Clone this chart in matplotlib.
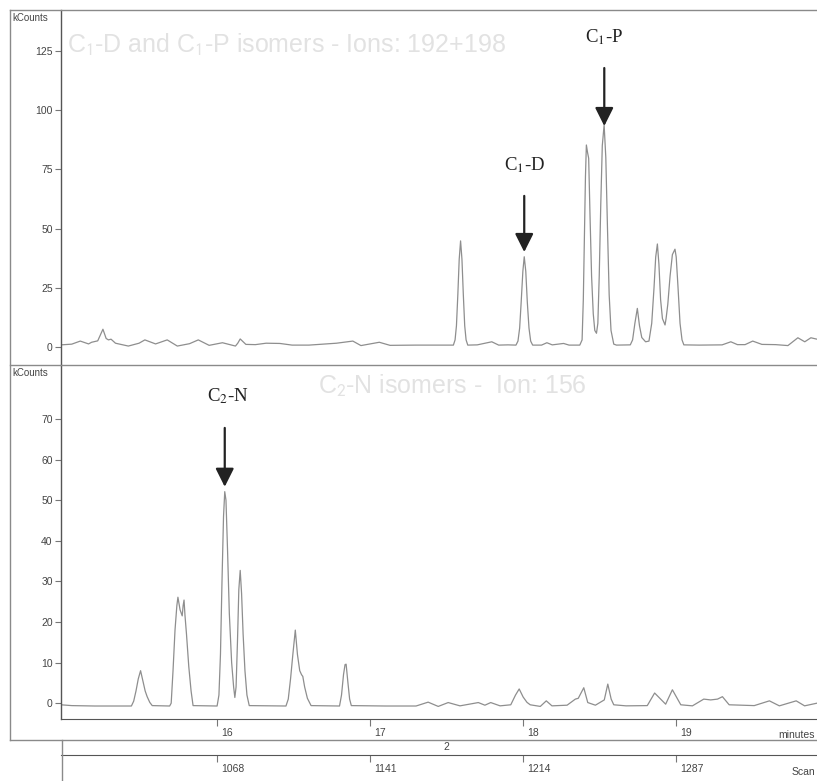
import matplotlib
matplotlib.use('Agg')
import matplotlib.pyplot as plt
from matplotlib.lines import Line2D
from matplotlib.transforms import ScaledTranslation

plt.rcParams['font.family'] = ['Liberation Sans', 'DejaVu Sans']

# chromatogram traces (time in minutes, signal in kCounts)
top_time = [14.98, 15.05, 15.106, 15.16, 15.18, 15.22, 15.254, 15.275, 15.29, 15.307,
            15.336, 15.42, 15.49, 15.528, 15.598, 15.674, 15.74, 15.82, 15.877, 15.948,
            16.035, 16.12, 16.135, 16.151, 16.188, 16.25, 16.32, 16.41, 16.49, 16.6,
            16.78, 16.887, 16.94, 17.06, 17.13, 17.3, 17.52,
            17.544, 17.555, 17.564, 17.573, 17.582, 17.591, 17.6, 17.609, 17.618, 17.627, 17.638,
            17.70, 17.795, 17.84, 17.90,
            17.953, 17.966, 17.977, 17.987, 17.998, 18.007, 18.017, 18.027, 18.038, 18.049, 18.062,
            18.12, 18.155, 18.19, 18.264, 18.30, 18.37,
            18.385, 18.393, 18.400, 18.407, 18.413, 18.421, 18.428, 18.437, 18.447, 18.458, 18.468,
            18.479, 18.488, 18.497, 18.507, 18.517, 18.529, 18.540, 18.551, 18.562, 18.574, 18.592,
            18.61, 18.70, 18.715, 18.73, 18.746, 18.76, 18.775, 18.80, 18.822,
            18.84, 18.855, 18.866, 18.877, 18.887, 18.898, 18.91, 18.927, 18.934, 18.945, 18.96,
            18.975, 18.992, 19.0, 19.012, 19.025, 19.038, 19.05,
            19.15, 19.30, 19.357, 19.40, 19.45, 19.50, 19.56, 19.65, 19.73, 19.795, 19.84, 19.88, 19.92]
top_kcounts = [0.9, 1.2, 2.5, 1.3, 2.0, 2.6, 7.5, 3.6, 3.0, 3.3,
               1.6, 0.4, 1.6, 3.0, 1.3, 3.0, 0.4, 1.4, 3.0, 0.7,
               1.8, 0.4, 1.6, 3.4, 1.1, 1.0, 1.6, 1.5, 0.8, 0.8,
               1.6, 2.5, 0.6, 2.0, 0.7, 0.8, 0.8,
               0.8, 3.0, 9.0, 22.0, 37.0, 44.8, 37.0, 22.0, 9.0, 3.0, 0.8,
               0.9, 2.2, 0.8, 0.9,
               0.8, 2.5, 8.0, 19.0, 32.0, 38.1, 32.0, 19.0, 8.0, 2.5, 0.8,
               0.8, 1.8, 0.9, 1.5, 0.8, 0.8,
               3.0, 20.0, 45.0, 72.0, 85.3, 82.0, 79.7, 55.0, 30.0, 14.0, 7.0,
               5.8, 10.0, 30.0, 60.0, 85.0, 93.8, 80.0, 50.0, 22.0, 7.0, 1.2,
               0.8, 0.9, 3.0, 10.0, 16.3, 9.0, 4.0, 2.2, 2.5,
               10.0, 25.0, 38.0, 43.5, 35.0, 20.0, 12.0, 9.3, 12.1, 18.0, 30.0,
               39.0, 41.3, 38.0, 25.0, 10.0, 3.0, 0.9,
               0.8, 0.9, 2.2, 1.0, 1.0, 2.5, 1.1, 1.0, 0.6, 3.9, 2.2, 3.9, 3.3]

bot_time = [14.98, 15.05, 15.2, 15.44, 15.455, 15.47, 15.485, 15.5, 15.515, 15.53,
            15.543, 15.56, 15.576, 15.69, 15.70, 15.712, 15.725, 15.737, 15.744, 15.758,
            15.772, 15.778, 15.784, 15.79, 15.80, 15.815, 15.83, 15.843,
            16.00, 16.012, 16.022, 16.032, 16.042, 16.05, 16.058, 16.068, 16.08, 16.095, 16.108,
            16.116, 16.124, 16.133, 16.142, 16.151, 16.16, 16.17, 16.182, 16.195, 16.21,
            16.45, 16.465, 16.48, 16.495, 16.511, 16.525, 16.54, 16.552, 16.56, 16.572, 16.59, 16.614,
            16.80, 16.813, 16.826, 16.836, 16.843, 16.855, 16.866, 16.877,
            17.1, 17.3, 17.379, 17.445, 17.51, 17.587, 17.707, 17.75, 17.788, 17.849,
            17.919, 17.95, 17.974, 18.0, 18.025, 18.046, 18.112, 18.151, 18.188,
            18.287, 18.341, 18.36, 18.396, 18.422, 18.472, 18.53, 18.553, 18.575, 18.592, 18.672,
            18.811, 18.859, 18.931, 18.975, 19.03, 19.106, 19.18, 19.225, 19.27, 19.302, 19.346,
            19.51, 19.609, 19.674, 19.784, 19.839, 19.92]
bot_kcounts = [-0.4, -0.6, -0.7, -0.7, 0.5, 3.0, 6.0, 8.0, 5.5, 3.0,
               1.6, 0.2, -0.6, -0.7, 0.0, 8.0, 18.0, 24.0, 26.1, 23.0,
               21.5, 24.0, 25.4, 21.7, 17.0, 9.0, 3.0, -0.6,
               -0.7, 2.0, 12.0, 30.0, 46.0, 52.1, 50.0, 38.0, 22.0, 10.0, 4.0,
               1.4, 4.0, 15.0, 28.0, 32.7, 27.0, 17.0, 8.0, 2.0, -0.6,
               -0.7, 1.0, 6.0, 12.0, 18.0, 12.0, 8.0, 7.0, 6.6, 4.0, 1.2, -0.6,
               -0.7, 2.0, 7.0, 9.5, 9.6, 5.0, 1.0, -0.6,
               -0.7, -0.7, 0.25, -0.8, 0.15, -0.66, 0.15, -0.5, 0.15, -0.66,
               -0.4, 2.0, 3.5, 1.5, 0.2, -0.4, -0.8, 0.57, -0.66,
               -0.5, 1.0, 1.2, 3.8, 0.15, -0.5, 0.8, 4.7, 1.0, -0.4, -0.66,
               -0.6, 2.5, -0.25, 3.3, -0.4, -0.66, 1.0, 0.8, 1.0, 1.6, -0.4,
               -0.6, 0.57, -0.66, 0.57, -0.66, 0.0]

minute_ticks = [16, 17, 18, 19]
scan_ticks = [1068, 1141, 1214, 1287]
top_yticks = [0, 25, 50, 75, 100, 125]
bot_yticks = [0, 10, 20, 30, 40, 50, 60, 70]

W, H = 817, 781
XLIM = (14.98, 19.92)
trace_color = '#8e8e8e'
frame_color = '#8a8a8a'
text_color = '#444444'
title_color = '#e2e2e2'


def rect(x0, y0, x1, y1):
    # pixel box (top-left origin) -> figure fraction rect
    return [x0 / W, 1 - y1 / H, (x1 - x0) / W, (y1 - y0) / H]


def fig_line(fig, xs, ys):
    fig.add_artist(Line2D([x / W for x in xs], [1 - y / H for y in ys],
                          transform=fig.transFigure, color=frame_color, lw=1.0))


def fig_text(fig, x, y, s, **kw):
    fig.text(x / W, 1 - y / H, s, **kw)


def style_axes(ax):
    for side in ['top', 'right', 'bottom']:
        ax.spines[side].set_visible(False)
    ax.spines['left'].set_color('#555555')
    ax.spines['left'].set_linewidth(1.0)
    ax.tick_params(axis='y', direction='out', length=4, width=0.8, pad=2,
                   labelsize=7.5, labelcolor=text_color, color='#777777')
    ax.set_xlim(*XLIM)
    ax.patch.set_alpha(0)


fig = plt.figure(figsize=(W / 100, H / 100), dpi=100)

# top panel: ions 192+198
ax1 = fig.add_axes(rect(61, 10, 817, 365))
ax1.plot(top_time, top_kcounts, color=trace_color, lw=0.9)
style_axes(ax1)
ax1.set_ylim(-7.6, 142.3)
ax1.set_yticks(top_yticks)
ax1.set_xticks([])

# bottom panel: ion 156
ax2 = fig.add_axes(rect(61, 365, 817, 719))
ax2.plot(bot_time, bot_kcounts, color=trace_color, lw=0.9)
style_axes(ax2)
ax2.set_ylim(-3.9, 83.3)
ax2.set_yticks(bot_yticks)
ax2.spines['bottom'].set_visible(True)
ax2.spines['bottom'].set_color('#555555')
ax2.set_xticks(minute_ticks)
ax2.set_xticklabels([str(t) for t in minute_ticks])
ax2.tick_params(axis='x', direction='out', length=5, width=0.8, pad=1.5,
                labelsize=7.5, labelcolor=text_color, color='#777777')
shift = ScaledTranslation(3 / 72, 0, fig.dpi_scale_trans)
for lbl in ax2.get_xticklabels():
    lbl.set_horizontalalignment('left')
    lbl.set_transform(lbl.get_transform() + shift)

# scan axis under the time axis (73 scans per minute)
ax3 = fig.add_axes(rect(61, 745, 817, 755))
per_min = scan_ticks[1] - scan_ticks[0]
scan_lo = scan_ticks[0] + (XLIM[0] - minute_ticks[0]) * per_min
scan_hi = scan_ticks[-1] + (XLIM[1] - minute_ticks[-1]) * per_min
ax3.set_xlim(scan_lo, scan_hi)
for side in ['top', 'right', 'left']:
    ax3.spines[side].set_visible(False)
ax3.spines['bottom'].set_color('#555555')
ax3.set_yticks([])
ax3.set_xticks(scan_ticks)
ax3.set_xticklabels([str(s) for s in scan_ticks])
ax3.tick_params(axis='x', direction='out', length=5, width=0.8, pad=1.5,
                labelsize=7.5, labelcolor=text_color, color='#777777')
for lbl in ax3.get_xticklabels():
    lbl.set_horizontalalignment('left')
    lbl.set_transform(lbl.get_transform() + shift)
ax3.patch.set_alpha(0)

# outer frame lines
fig_line(fig, [10, 817], [10, 10])
fig_line(fig, [10, 817], [365, 365])
fig_line(fig, [10, 817], [740, 740])
fig_line(fig, [10, 10], [10, 740])
fig_line(fig, [62, 62], [740, 781])

# axis captions
fig_text(fig, 12, 18, 'kCounts', fontsize=7, color=text_color, va='center')
fig_text(fig, 12, 373, 'kCounts', fontsize=7, color=text_color, va='center')
fig_text(fig, 815, 735, 'minutes', fontsize=7.5, color=text_color, va='center', ha='right')
fig_text(fig, 815, 772, 'Scan', fontsize=7.5, color=text_color, va='center', ha='right')
fig_text(fig, 446, 747, '2', fontsize=7.5, color=text_color, va='center', ha='center')

# faint panel titles
fig_text(fig, 67, 45, r'C$_1$-D and C$_1$-P isomers - Ions: 192+198', fontsize=18,
         color=title_color, va='center', math_fontfamily='stixsans')
fig_text(fig, 318, 386, r'C$_2$-N isomers -  Ion: 156', fontsize=18,
         color=title_color, va='center', math_fontfamily='stixsans')

# peak labels with arrows
arrow = dict(arrowstyle='-|>', mutation_scale=28, lw=1.6, color='#222222',
             shrinkA=0, shrinkB=0)
label_kw = dict(fontsize=13.5, family='Liberation Serif', math_fontfamily='stix',
                ha='center', va='center', color='#222222')
ax1.annotate('', xy=(18.53, 93.3), xytext=(18.53, 117.8), arrowprops=arrow)
ax1.text(18.53, 130.9, r'C$_1$-P', **label_kw)
ax1.annotate('', xy=(18.007, 40.1), xytext=(18.007, 63.8), arrowprops=arrow)
ax1.text(18.007, 76.9, r'C$_1$-D', **label_kw)
ax2.annotate('', xy=(16.05, 53.3), xytext=(16.05, 67.8), arrowprops=arrow)
ax2.text(16.07, 75.7, r'C$_2$-N', **label_kw)

fig.savefig('out.png', dpi=100)
